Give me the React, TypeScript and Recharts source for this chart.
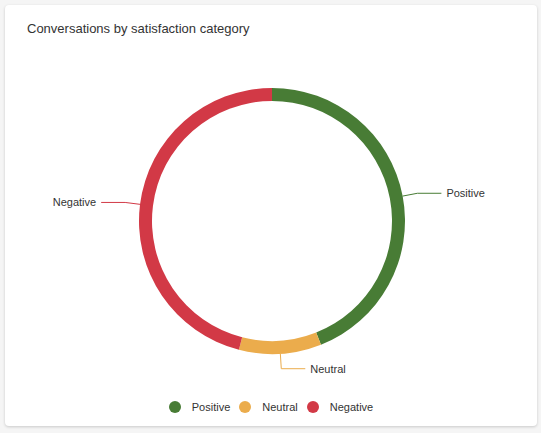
import React from 'react';
import { PieChart, Pie, Cell, Legend } from 'recharts';

const CATEGORIES = ['Positive', 'Neutral', 'Negative'];
const COUNTS = [44, 10, 46];
const COLORS = ['#487c35', '#ebac4c', '#d23946'];

const data = CATEGORIES.map((name, i) => ({ name, value: COUNTS[i] }));

const FONT = '"Liberation Sans", Arial, Helvetica, sans-serif';
const RAD = Math.PI / 180;

function renderLabel(props: any) {
  const { cx, cy, midAngle, outerRadius, index, name } = props;
  const cos = Math.cos(-midAngle * RAD);
  const sin = Math.sin(-midAngle * RAD);
  const sx = cx + outerRadius * cos;
  const sy = cy + outerRadius * sin;
  const mx = cx + (outerRadius + 15) * cos;
  const my = cy + (outerRadius + 15) * sin;
  const dir = cos >= 0 ? 1 : -1;
  const ex = mx + dir * 24;
  return (
    <g>
      <path
        d={`M${sx},${sy}L${mx},${my}L${ex},${my}`}
        stroke={COLORS[index]}
        fill="none"
        strokeWidth={1}
      />
      <text
        x={ex + dir * 5}
        y={my}
        textAnchor={dir > 0 ? 'start' : 'end'}
        dominantBaseline="central"
        fontSize={11}
        fill="#333"
        fontFamily={FONT}
      >
        {name}
      </text>
    </g>
  );
}

// legend drawn in category order (recharts 3 reverses the pie payload)
function LegendContent() {
  return (
    <div style={{ display: 'flex', justifyContent: 'center', alignItems: 'center', fontFamily: FONT }}>
      {CATEGORIES.map((name, i) => (
        <div key={name} style={{ display: 'flex', alignItems: 'center', marginRight: i < CATEGORIES.length - 1 ? 9 : 0 }}>
          <span
            style={{
              width: 12,
              height: 12,
              borderRadius: 6,
              background: COLORS[i],
              display: 'inline-block',
              marginRight: 11,
            }}
          />
          <span style={{ fontSize: 11, color: '#333' }}>{name}</span>
        </div>
      ))}
    </div>
  );
}

export default function App() {
  return (
    <div
      style={{
        position: 'fixed',
        left: 0,
        top: 0,
        width: 541,
        height: 433,
        background: '#f5f5f5',
      }}
    >
      <div
        style={{
          position: 'absolute',
          left: 5,
          top: 5,
          width: 532,
          height: 421,
          background: '#fff',
          borderRadius: 4,
          boxShadow: '0 1px 3px rgba(0,0,0,0.18)',
        }}
      >
        <div
          style={{
            position: 'absolute',
            left: 22,
            top: 16,
            fontSize: 13,
            color: '#333',
            fontFamily: FONT,
          }}
        >
          Conversations by satisfaction category
        </div>
        <PieChart
          width={532}
          height={421}
          margin={{ top: 0, right: 0, bottom: 0, left: 0 }}
          style={{ position: 'absolute', left: 0, top: 0 }}
        >
          <Pie
            data={data}
            dataKey="value"
            nameKey="name"
            cx={267}
            cy={216}
            innerRadius={120}
            outerRadius={133}
            startAngle={90}
            endAngle={-270}
            paddingAngle={0}
            label={renderLabel}
            labelLine={false}
            isAnimationActive={false}
          >
            {data.map((d, i) => (
              <Cell key={d.name} fill={COLORS[i]} stroke="none" />
            ))}
          </Pie>
          <Legend
            content={<LegendContent />}
            wrapperStyle={{ position: 'absolute', top: 396, left: 0, width: 532 }}
          />
        </PieChart>
      </div>
    </div>
  );
}
